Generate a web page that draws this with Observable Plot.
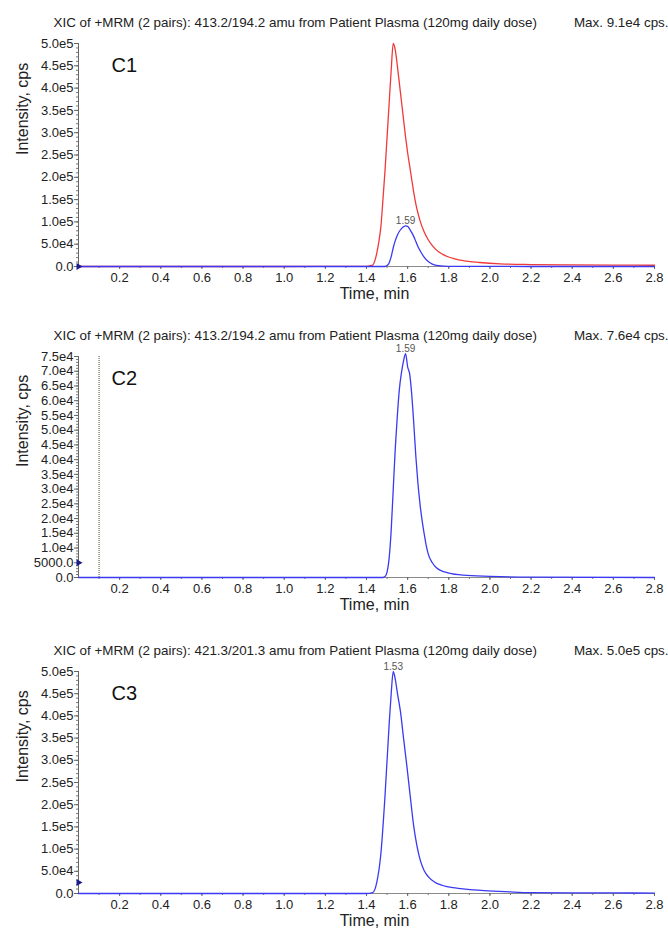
<!DOCTYPE html>
<html><head><meta charset="utf-8">
<script src="https://cdn.jsdelivr.net/npm/d3@7"></script>
<script src="https://cdn.jsdelivr.net/npm/@observablehq/plot@0.6"></script>
<style>
body{margin:0;background:#fff;}
#chart{width:668px;}
#chart svg{display:block;}
</style></head><body><div id="chart"></div>
<script>
// ---------- data ----------
const xTicks = [0.2,0.4,0.6,0.8,1.0,1.2,1.4,1.6,1.8,2.0,2.2,2.4,2.6,2.8];
const yTicksE5 = [0,50000,100000,150000,200000,250000,300000,350000,400000,450000,500000];
const yTicksE4 = [0,5000,10000,15000,20000,25000,30000,35000,40000,45000,50000,55000,60000,65000,70000,75000];

const titles = [
  "XIC of +MRM (2 pairs): 413.2/194.2 amu from Patient Plasma (120mg daily dose)",
  "XIC of +MRM (2 pairs): 413.2/194.2 amu from Patient Plasma (120mg daily dose)",
  "XIC of +MRM (2 pairs): 421.3/201.3 amu from Patient Plasma (120mg daily dose)"
];
const maxTexts = ["Max. 9.1e4 cps.", "Max. 7.6e4 cps.", "Max. 5.0e5 cps."];
const tags = ["C1", "C2", "C3"];

// C1 red trace
const c1RedTime = [0,0.5,1.0,1.40,1.43,1.44,1.45,1.46,1.47,1.48,1.49,1.50,1.51,1.52,1.53,1.54,1.55,1.56,1.57,1.58,1.59,1.60,1.61,1.62,1.63,1.64,1.65,1.66,1.68,1.70,1.72,1.75,1.79,1.83,1.87,1.95,2.05,2.20,2.40,2.60,2.80];
const c1RedIntensity = [0,0,0,500,3000,12000,30000,55000,90000,150000,215000,290000,365000,440000,500000,485000,450000,410000,370000,330000,290000,255000,225000,195000,165000,140000,120000,103000,78000,60000,47000,33000,23000,17000,13000,9000,6000,4400,3500,3000,2800];
// C1 blue trace
const c1BlueTime = [0,0.5,1.0,1.49,1.50,1.51,1.52,1.53,1.54,1.55,1.56,1.57,1.58,1.59,1.60,1.61,1.62,1.63,1.64,1.65,1.66,1.67,1.68,1.70,1.72,1.75,1.80,2.2,2.8];
const c1BlueIntensity = [0,0,0,0,2000,8000,22000,42000,58000,70000,79000,85000,89000,91000,90000,84000,76000,67000,56000,45000,36000,28000,21000,11000,5500,2000,500,0,0];
// C2 blue trace
const c2BlueTime = [0,0.5,1.0,1.48,1.49,1.50,1.51,1.52,1.53,1.54,1.55,1.56,1.57,1.58,1.59,1.60,1.61,1.62,1.63,1.64,1.65,1.66,1.67,1.68,1.69,1.70,1.72,1.74,1.76,1.80,1.87,2.0,2.2,2.8];
const c2BlueIntensity = [0,0,0,0,300,1800,6500,16000,30000,44000,55000,64000,69500,73500,76000,71500,69000,62000,52000,41000,32000,25000,19500,15000,11000,8000,5000,3300,2400,1500,800,400,100,0];
// C3 blue trace
const c3BlueTime = [0,0.5,1.0,1.40,1.43,1.45,1.47,1.49,1.51,1.52,1.53,1.54,1.55,1.565,1.58,1.597,1.61,1.63,1.645,1.662,1.68,1.70,1.73,1.77,1.82,1.86,1.92,1.99,2.10,2.20,2.40,2.60,2.80];
const c3BlueIntensity = [0,0,0,0,2000,25000,90000,220000,380000,450000,500000,482000,452000,410000,350000,284000,230000,150000,108000,74000,52000,38000,26000,18000,13000,11000,8000,6000,3500,2000,1500,1200,1000];

const peakTimes = [1.59, 1.59, 1.53];
const peakIntensities = [91000, 76000, 500000];
const peakLabels = ["1.59", "1.59", "1.53"];
const markerLevels = [0, 5000, 25000];

// ---------- helpers ----------
const RED = "#f03a3a", BLUE = "#3a3af2";
const toRows = (ts, vs) => ts.map((t, i) => ({t, v: vs[i]}));
const fmtY = v => v === 0 ? "0.0" : v === 5000 ? "5000.0" : d3.format(".1e")(v).replace("+", "");
const FONT = "'Liberation Sans', Arial, Helvetica, sans-serif";

function panel(i, cfg) {
  const yMax = cfg.yTicks[cfg.yTicks.length - 1];
  const yStep = cfg.yTicks[1] - cfg.yTicks[0];
  const yMinor = d3.range(0, yMax + yStep / 10, yStep / 5);
  const xMinor = d3.range(1, 29).map(k => k / 10);
  const marks = [
    Plot.ruleY([0], {stroke: "#8a8a8a"}),
    Plot.ruleX([0], {stroke: "#666"}),
    Plot.axisY(yMinor, {tickSize: 2, tickFormat: () => "", stroke: "#777", label: null}),
    Plot.axisY(cfg.yTicks, {tickSize: 4, tickPadding: 1, tickFormat: fmtY, stroke: "#666", fontSize: 13, label: null}),
    Plot.axisX(xMinor, {tickSize: 2, tickFormat: () => "", stroke: "#777", label: null}),
    Plot.axisX(xTicks, {tickSize: 3, tickPadding: 3, tickFormat: d => d.toFixed(1), stroke: "#666", fontSize: 13, label: null}),
  ];
  if (cfg.dotted != null) marks.push(Plot.ruleX([cfg.dotted], {stroke: "#4a4a30", strokeDasharray: "1,1", strokeWidth: 1}));
  for (const s of cfg.series) {
    marks.push(Plot.line(s.rows, {x: "t", y: "v", stroke: s.color, strokeWidth: 1.3, curve: "monotone-x"}));
  }
  marks.push(
    Plot.dot([{t: 0, v: markerLevels[i]}], {x: "t", y: "v", symbol: "triangle", rotate: 90, r: 2.6, fill: "#1c1c8c", stroke: null}),
    Plot.text([{t: peakTimes[i], v: peakIntensities[i], s: peakLabels[i]}], {x: "t", y: "v", text: "s", dy: -5, fontSize: 10, fill: "#555"}),
    Plot.text([titles[i]], {text: d => d, frameAnchor: "top-left", dx: -25, dy: -26, textAnchor: "start", fontSize: 13.4, fill: "#222"}),
    Plot.text([maxTexts[i]], {text: d => d, frameAnchor: "top-right", dx: 14, dy: -26, textAnchor: "end", fontSize: 13.4, fill: "#222"}),
    Plot.text([tags[i]], {text: d => d, frameAnchor: "top-left", dx: 33, dy: 14, textAnchor: "start", fontSize: 20, fill: "#111"}),
    Plot.text(["Time, min"], {text: d => d, frameAnchor: "bottom", dx: 8, dy: 32, fontSize: 16, fill: "#222"}),
    Plot.text(["Intensity, cps"], {text: d => d, frameAnchor: "left", rotate: -90, dx: -56, fontSize: 16, fill: "#222"})
  );
  return Plot.plot({
    width: 668,
    height: cfg.height,
    marginLeft: 78,
    marginRight: 14,
    marginTop: cfg.mt,
    marginBottom: cfg.mb,
    style: {fontFamily: FONT, fontSize: "13px", color: "#222", background: "#fff", overflow: "visible"},
    x: {domain: [0, 2.8], label: null},
    y: {domain: [0, yMax], label: null},
    marks
  });
}

const chart = document.getElementById("chart");
chart.append(panel(0, {
  yTicks: yTicksE5, height: 311, mt: 43, mb: 45,
  series: [{rows: toRows(c1RedTime, c1RedIntensity), color: RED}, {rows: toRows(c1BlueTime, c1BlueIntensity), color: BLUE}]
}));
chart.append(panel(1, {
  yTicks: yTicksE4, height: 315, mt: 45, mb: 49, dotted: 0.1,
  series: [{rows: toRows(c2BlueTime, c2BlueIntensity), color: BLUE}]
}));
chart.append(panel(2, {
  yTicks: yTicksE5, height: 305, mt: 45, mb: 38,
  series: [{rows: toRows(c3BlueTime, c3BlueIntensity), color: BLUE}]
}));
</script>
</body></html>
